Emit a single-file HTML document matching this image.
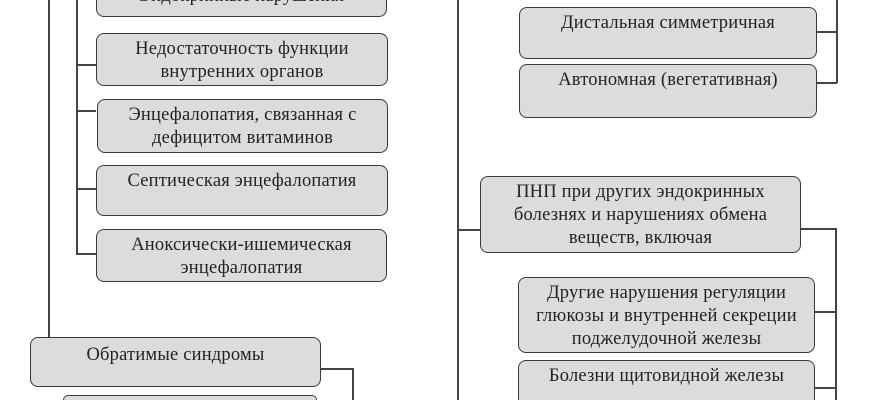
<!DOCTYPE html>
<html><head><meta charset="utf-8"><style>
html,body{margin:0;padding:0;overflow:hidden;width:870px;height:400px}
body{background:#fff;font-family:"Liberation Serif",serif;color:#222}
#w{position:relative;width:870px;height:400px;overflow:hidden}
.b{position:absolute;box-sizing:border-box;background:#dcdcdc;border:1.5px solid #3a3a3a;border-radius:8px;text-align:center;font-size:18.5px;line-height:23px;padding-top:4px;letter-spacing:0.2px;overflow:hidden}
.l{position:absolute;background:#444}
.cb{border-bottom:none;border-bottom-left-radius:0;border-bottom-right-radius:0}
</style></head><body><div id="w">
<div class="l" style="left:48px;top:0;width:1.5px;height:338px"></div>
<div class="l" style="left:76px;top:0;width:1.5px;height:254px"></div>
<div class="l" style="left:76px;top:64px;width:20px;height:1.5px"></div>
<div class="l" style="left:76px;top:110px;width:20px;height:1.5px"></div>
<div class="l" style="left:76px;top:188px;width:20px;height:1.5px"></div>
<div class="l" style="left:76px;top:253px;width:20px;height:1.5px"></div>
<div class="l" style="left:320px;top:368px;width:33px;height:1.5px"></div>
<div class="l" style="left:352px;top:368px;width:1.5px;height:32px"></div>

<div class="b" style="left:96px;top:0;width:291px;height:17px;border-top:none;border-top-left-radius:0;border-top-right-radius:0;padding-top:0;line-height:10px"><div style="margin-top:-9px">Эндокринные нарушения</div></div>
<div class="b" style="left:96px;top:33px;width:292px;height:53px">Недостаточность функции<br>внутренних органов</div>
<div class="b" style="left:97px;top:99px;width:291px;height:54px">Энцефалопатия, связанная с<br>дефицитом витаминов</div>
<div class="b" style="left:96px;top:165px;width:292px;height:51px">Септическая энцефалопатия</div>
<div class="b" style="left:96px;top:229px;width:291px;height:53px">Аноксически-ишемическая<br>энцефалопатия</div>
<div class="b" style="left:30px;top:337px;width:291px;height:50px;padding-top:6px">Обратимые синдромы</div>
<div class="b cb" style="left:63px;top:395px;width:254px;height:5px"></div>

<div class="l" style="left:457px;top:0;width:1.5px;height:400px"></div>
<div class="l" style="left:836px;top:0;width:1.5px;height:83px"></div>
<div class="l" style="left:817px;top:31px;width:20px;height:1.5px"></div>
<div class="l" style="left:817px;top:82px;width:20px;height:1.5px"></div>
<div class="l" style="left:457px;top:229px;width:23px;height:1.5px"></div>
<div class="l" style="left:800px;top:228px;width:37px;height:1.5px"></div>
<div class="l" style="left:835px;top:228px;width:1.5px;height:172px"></div>
<div class="l" style="left:815px;top:311px;width:21px;height:1.5px"></div>
<div class="l" style="left:815px;top:387px;width:21px;height:1.5px"></div>

<div class="b" style="left:519px;top:7px;width:298px;height:52px">Дистальная симметричная</div>
<div class="b" style="left:519px;top:64px;width:298px;height:54px">Автономная (вегетативная)</div>
<div class="b" style="left:480px;top:176px;width:321px;height:77px">ПНП при других эндокринных<br>болезнях и нарушениях обмена<br>веществ, включая</div>
<div class="b" style="left:518px;top:277px;width:297px;height:76px">Другие нарушения регуляции<br>глюкозы и внутренней секреции<br>поджелудочной железы</div>
<div class="b cb" style="left:518px;top:360px;width:297px;height:40px">Болезни щитовидной железы</div>
</div></body></html>
